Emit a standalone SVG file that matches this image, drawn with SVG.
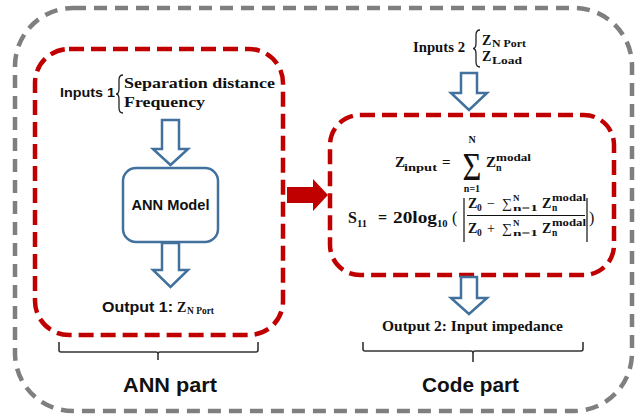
<svg xmlns="http://www.w3.org/2000/svg" width="643" height="416" viewBox="0 0 643 416">
  <style>
    .frame { fill: none; stroke: #7f7f7f; stroke-width: 4.5; stroke-dasharray: 13 8; }
    .part { fill: none; stroke: #c00000; stroke-width: 4.5; stroke-dasharray: 15 7; }
    .block { fill: #ffffff; stroke: #41719c; stroke-width: 2.5; }
    .flow { fill: #ffffff; stroke: #41719c; stroke-width: 2.5; stroke-linejoin: miter; }
    .brace { fill: none; stroke: #222; stroke-width: 1.3; }
    .bracket { fill: none; stroke: #333; stroke-width: 1.6; }
    .sans { font-family: "Liberation Sans", Arial, sans-serif; font-weight: bold; fill: #111; }
    .serif { font-family: "Liberation Serif", "Times New Roman", serif; font-weight: bold; fill: #111; }
    .op { font-family: "Liberation Serif", "Times New Roman", serif; font-weight: normal; fill: #111; }
  </style>

  <!-- outer frame -->
  <rect class="frame" x="15" y="8" width="617" height="403" rx="58" ry="58"/>

  <!-- ANN part -->
  <g id="ann-part">
    <rect class="part" x="35" y="49" width="248" height="286" rx="34" ry="34"/>
  </g>

  <!-- Code part -->
  <g id="code-part">
    <rect class="part" x="330" y="115" width="284" height="160" rx="30" ry="30"/>
  </g>

  <!-- Inputs 1 -->
  <g id="inputs1">
    <text class="sans" x="60" y="97" font-size="13.5" textLength="55" lengthAdjust="spacingAndGlyphs">Inputs 1</text>
    <path class="brace" d="M123,75 Q119,75 119,80 L119,89 Q119,94 116,94 Q119,94 119,99 L119,108 Q119,113 123,113"/>
    <text class="serif" x="124" y="88" font-size="15" textLength="151" lengthAdjust="spacingAndGlyphs">Separation distance</text>
    <text class="serif" x="124" y="107" font-size="15" textLength="81" lengthAdjust="spacingAndGlyphs">Frequency</text>
  </g>

  <!-- ANN model -->
  <g id="ann-model">
    <rect class="block" x="123" y="168" width="95" height="74" rx="13" ry="13"/>
    <text class="sans" x="170.5" y="210" font-size="14.5" text-anchor="middle" textLength="78" lengthAdjust="spacingAndGlyphs">ANN Model</text>
  </g>

  <!-- Output 1 -->
  <g id="output1">
    <text class="sans" x="102" y="312" font-size="14" textLength="71" lengthAdjust="spacingAndGlyphs">Output 1:</text>
    <text class="serif" x="177" y="312" font-size="14">Z</text>
    <text class="serif" x="187" y="314" font-size="10" textLength="27" lengthAdjust="spacingAndGlyphs">N Port</text>
  </g>

  <!-- Inputs 2 -->
  <g id="inputs2">
    <text class="serif" x="413" y="52" font-size="14" textLength="52" lengthAdjust="spacingAndGlyphs">Inputs 2</text>
    <path class="brace" d="M480,30 Q476,30 476,35 L476,43 Q476,48.5 473,48.5 Q476,48.5 476,54 L476,62 Q476,67 480,67"/>
    <text class="serif" x="482" y="45" font-size="14">Z</text>
    <text class="serif" x="492" y="47" font-size="10" textLength="34" lengthAdjust="spacingAndGlyphs">N Port</text>
    <text class="serif" x="482" y="61" font-size="14">Z</text>
    <text class="serif" x="492" y="64" font-size="10" textLength="30" lengthAdjust="spacingAndGlyphs">Load</text>
  </g>

  <!-- equations -->
  <g id="equations">
    <!-- Z_input = sum Z_n^modal -->
    <text class="serif" x="395" y="167" font-size="15">Z</text>
    <text class="serif" x="404" y="171" font-size="10.5" textLength="33" lengthAdjust="spacingAndGlyphs">input</text>
    <text class="serif" x="442" y="167" font-size="15">=</text>
    <text class="op" font-size="29" text-anchor="middle" transform="translate(472,179.5) scale(1.12,1.4)">Σ</text>
    <text class="serif" x="472" y="143" font-size="10" text-anchor="middle">N</text>
    <text class="serif" x="472" y="192" font-size="10" text-anchor="middle">n=1</text>
    <text class="serif" x="486" y="167" font-size="15">Z</text>
    <text class="serif" x="496" y="171" font-size="10">n</text>
    <text class="serif" x="496" y="161" font-size="10" textLength="35" lengthAdjust="spacingAndGlyphs">modal</text>

    <!-- S11 = 20log10(|...|) -->
    <text class="serif" x="348" y="223" font-size="16">S</text>
    <text class="serif" x="357" y="227" font-size="10.5">11</text>
    <text class="serif" x="378" y="223" font-size="16">=</text>
    <text class="serif" x="393" y="223" font-size="16" textLength="44" lengthAdjust="spacingAndGlyphs">20log</text>
    <text class="serif" x="437" y="227" font-size="10.5">10</text>
    <text class="op" x="452" y="223" font-size="16">(</text>
    <path d="M464,198 V242 M587,198 V242" stroke="#111" stroke-width="1.2" fill="none"/>
    <line x1="467" y1="215.5" x2="585" y2="215.5" stroke="#111" stroke-width="1"/>
    <!-- numerator -->
    <text class="serif" x="468" y="208" font-size="14">Z</text>
    <text class="serif" x="477" y="211" font-size="9.5">0</text>
    <text class="op" x="487" y="208" font-size="14">−</text>
    <text class="op" x="502" y="208" font-size="14">∑</text>
    <text class="serif" x="513" y="201" font-size="9">N</text>
    <text class="serif" x="513" y="211" font-size="9" textLength="25" lengthAdjust="spacingAndGlyphs">n=1</text>
    <text class="serif" x="542" y="208" font-size="14">Z</text>
    <text class="serif" x="552" y="211" font-size="9.5">n</text>
    <text class="serif" x="552" y="201" font-size="9.5" textLength="34" lengthAdjust="spacingAndGlyphs">modal</text>
    <!-- denominator -->
    <text class="serif" x="468" y="233" font-size="14">Z</text>
    <text class="serif" x="477" y="236" font-size="9.5">0</text>
    <text class="op" x="487" y="233" font-size="14">+</text>
    <text class="op" x="502" y="233" font-size="14">∑</text>
    <text class="serif" x="513" y="226" font-size="9">N</text>
    <text class="serif" x="513" y="236" font-size="9" textLength="25" lengthAdjust="spacingAndGlyphs">n=1</text>
    <text class="serif" x="542" y="233" font-size="14">Z</text>
    <text class="serif" x="552" y="236" font-size="9.5">n</text>
    <text class="serif" x="552" y="226" font-size="9.5" textLength="34" lengthAdjust="spacingAndGlyphs">modal</text>
    <text class="op" x="589" y="223" font-size="16">)</text>
  </g>

  <!-- Output 2 -->
  <g id="output2">
    <text class="serif" x="382" y="331" font-size="14" textLength="181" lengthAdjust="spacingAndGlyphs">Output 2: Input impedance</text>
  </g>

  <!-- part labels -->
  <g id="ann-label">
    <path class="bracket" d="M59,342 V350 Q59,352 61,352 H156 Q158,352 158,354 V360 M158,354 Q158,352 160,352 H256 Q258,352 258,350 V342"/>
    <text class="sans" x="170" y="392" font-size="20" text-anchor="middle" textLength="94" lengthAdjust="spacingAndGlyphs">ANN part</text>
  </g>
  <g id="code-label">
    <path class="bracket" d="M363,342 V349 Q363,351 365,351 H471 Q473,351 473,353 V362 M473,353 Q473,351 475,351 H581 Q583,351 583,349 V342"/>
    <text class="sans" x="470.5" y="392" font-size="20" text-anchor="middle" textLength="97" lengthAdjust="spacingAndGlyphs">Code part</text>
  </g>

  <!-- connectors -->
  <g id="connectors">
    <polygon class="flow" points="162,120 179,120 179,149 188,149 170.5,165 153,149 162,149"/>
    <polygon class="flow" points="162,243 179,243 179,270 188,270 170.5,287 153,270 162,270"/>
    <polygon class="flow" points="461,73 477,73 477,93 487,93 469,110 451,93 461,93"/>
    <polygon class="flow" points="461,277 477,277 477,298 487,298 469,314 451,298 461,298"/>
    <polygon fill="#c00000" points="287,187 313,187 313,179 328,195 313,211 313,203 287,203"/>
  </g>
</svg>
